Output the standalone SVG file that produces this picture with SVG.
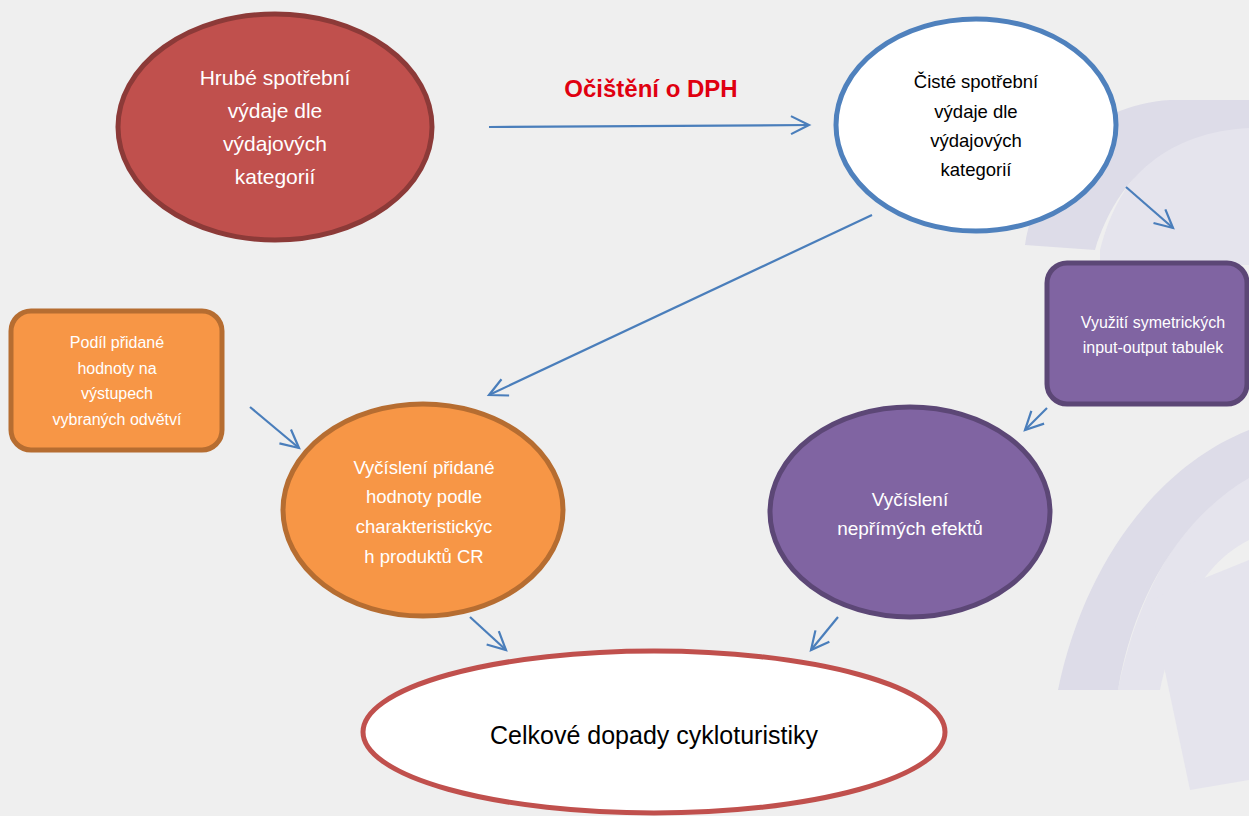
<svg xmlns="http://www.w3.org/2000/svg" width="1249" height="816" viewBox="0 0 1249 816">
<defs>
<style>
.t{font-family:"Liberation Sans",Arial,sans-serif;text-anchor:middle}
.w{fill:#ffffff}
.k{fill:#000000}
.c{stroke:#4a7ebb;stroke-width:2.2;fill:none}
.wm{fill:#dddce8}
.wm2{fill:#e5e4ed}
</style>
<marker id="ah" markerUnits="userSpaceOnUse" markerWidth="40" markerHeight="40" viewBox="-20 -20 40 40" refX="0" refY="0" orient="auto" overflow="visible">
<path d="M-18,-9 L0,0 L-18,9" fill="none" stroke="#4a7ebb" stroke-width="2.2"/>
</marker>
</defs>
<rect x="0" y="0" width="1249" height="816" fill="#efefef"/>
<g id="watermark">
<path class="wm2" d="M1100,250 C1120,170 1170,130 1249,125 L1249,265 L1100,265 Z"/>
<path class="wm" d="M1025,245 C1040,160 1090,105 1170,100 L1249,100 L1249,128 C1170,132 1118,175 1095,250 Z"/>
<path class="wm2" d="M1249,475 C1190,510 1140,580 1118,690 L1160,690 C1180,600 1210,560 1249,540 Z"/>
<path class="wm" d="M1249,430 C1160,465 1085,560 1058,690 L1118,690 C1135,590 1185,515 1249,478 Z"/>
<path class="wm2" d="M1150,600 L1249,560 L1249,780 L1190,790 Z"/>
</g>
<g id="connectors">
<line class="c" x1="489" y1="127" x2="809" y2="125" marker-end="url(#ah)"/>
<line class="c" x1="872" y1="215" x2="489" y2="395" marker-end="url(#ah)"/>
<line class="c" x1="1126" y1="187" x2="1173" y2="228" marker-end="url(#ah)"/>
<line class="c" x1="1047" y1="408" x2="1025" y2="430" marker-end="url(#ah)"/>
<line class="c" x1="250" y1="407" x2="299" y2="448" marker-end="url(#ah)"/>
<line class="c" x1="470" y1="617" x2="506" y2="650" marker-end="url(#ah)"/>
<line class="c" x1="838" y1="617" x2="811" y2="650" marker-end="url(#ah)"/>
</g>
<g id="label-dph">
<text class="t" x="651" y="97" font-size="24" font-weight="bold" fill="#e00010">Očištění o DPH</text>
</g>
<g id="node-hrube">
<ellipse cx="275" cy="127" rx="157" ry="113" fill="#c0504d" stroke="#8c3a38" stroke-width="5"/>
<text class="t w" font-size="21"><tspan x="275" y="85">Hrubé spotřební</tspan><tspan x="275" y="118">výdaje dle</tspan><tspan x="275" y="151">výdajových</tspan><tspan x="275" y="184">kategorií</tspan></text>
</g>
<g id="node-ciste">
<ellipse cx="976" cy="125" rx="140" ry="106" fill="#ffffff" stroke="#4f81bd" stroke-width="5"/>
<text class="t k" font-size="18.5"><tspan x="976" y="88">Čisté spotřební</tspan><tspan x="976" y="118">výdaje dle</tspan><tspan x="976" y="147">výdajových</tspan><tspan x="976" y="176">kategorií</tspan></text>
</g>
<g id="node-io">
<rect x="1047" y="263" width="200" height="141" rx="20" ry="20" fill="#8064a2" stroke="#5c4776" stroke-width="5"/>
<text class="t w" font-size="16"><tspan x="1153" y="328">Využití symetrických</tspan><tspan x="1153" y="353">input-output tabulek</tspan></text>
</g>
<g id="node-podil">
<rect x="11" y="311" width="211" height="139" rx="20" ry="20" fill="#f79646" stroke="#b66d31" stroke-width="5"/>
<text class="t w" font-size="16"><tspan x="117" y="348">Podíl přidané</tspan><tspan x="117" y="374">hodnoty na</tspan><tspan x="117" y="399">výstupech</tspan><tspan x="117" y="425">vybraných odvětví</tspan></text>
</g>
<g id="node-vycisleni-pridane">
<ellipse cx="423" cy="510" rx="140" ry="106" fill="#f79646" stroke="#b66d31" stroke-width="5"/>
<text class="t w" font-size="18.5"><tspan x="424" y="474">Vyčíslení přidané</tspan><tspan x="424" y="503">hodnoty podle</tspan><tspan x="424" y="533">charakteristickýc</tspan><tspan x="424" y="563">h produktů CR</tspan></text>
</g>
<g id="node-neprime">
<ellipse cx="910" cy="512" rx="140" ry="105" fill="#8064a2" stroke="#5c4776" stroke-width="5"/>
<text class="t w" font-size="19"><tspan x="910" y="506">Vyčíslení</tspan><tspan x="910" y="535">nepřímých efektů</tspan></text>
</g>
<g id="node-celkove">
<ellipse cx="654" cy="732" rx="291" ry="81" fill="#ffffff" stroke="#c0504d" stroke-width="5"/>
<text class="t k" x="654" y="744" font-size="25">Celkové dopady cykloturistiky</text>
</g>
</svg>
